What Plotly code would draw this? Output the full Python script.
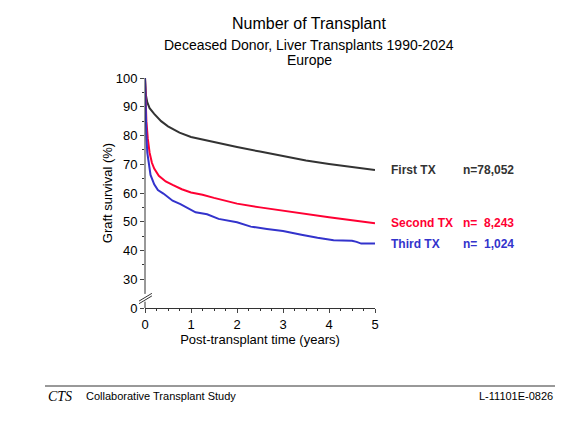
import plotly.graph_objects as go

# graft survival (%), time in years
t_first = [0, 0.02, 0.05, 0.1, 0.2, 0.35, 0.5, 0.75, 1, 1.5, 2, 2.5, 3, 3.5, 4, 4.5, 5]
first_tx = [100, 94, 91.5, 89.5, 87.5, 85, 83.2, 81, 79.5, 77.7, 76, 74.4, 72.8, 71.3, 70.1, 69, 68]

t_second = [0, 0.01, 0.03, 0.06, 0.1, 0.15, 0.2, 0.3, 0.45, 0.6, 0.8, 1, 1.25, 1.5, 2, 2.5, 3, 3.5, 4, 4.5, 5]
second_tx = [100, 92, 85, 79, 74, 70.5, 68.5, 66, 64, 62.8, 61.3, 60.2, 59.4, 58.3, 56.3, 55, 53.8, 52.8, 51.6, 50.5, 49.5]

t_third = [0, 0.01, 0.03, 0.05, 0.08, 0.12, 0.2, 0.28, 0.4, 0.5, 0.6, 0.77, 1, 1.1, 1.35, 1.6, 2,
           2.3, 2.65, 3, 3.4, 3.75, 4.1, 4.5, 4.6, 4.7, 5]
third_tx = [100, 90, 80, 74, 70, 66.3, 63, 61, 59.8, 58.5, 57.3, 56.1, 54.2, 53.3, 52.6, 51, 49.8,
            48.3, 47.5, 46.8, 45.5, 44.4, 43.6, 43.4, 43, 42.4, 42.4]

labels = ["First TX", "Second TX", "Third TX"]
counts = ["n=78,052", "n=\u00a0 8,243", "n=\u00a0 1,024"]
colors = ["#333333", "#ff0033", "#3333cc"]

# y axis is broken: "0" is drawn where 20 would be
y_tickvals = [20, 30, 40, 50, 60, 70, 80, 90, 100]
y_ticktext = ["0", "30", "40", "50", "60", "70", "80", "90", "100"]
Y0, Y1 = 20, 100


def py(v):
    return (v - Y0) / (Y1 - Y0)


# page positions (pixels of the screenshot) -> paper coords
def ax(px):
    return (px - 145) / 230


def ay(pyx):
    return (308 - pyx) / 230


fig = go.Figure()
for t, s, c in zip([t_first, t_second, t_third], [first_tx, second_tx, third_tx], colors):
    fig.add_trace(go.Scatter(x=t, y=s, mode='lines', line=dict(color=c, width=2), showlegend=False))

font = "Liberation Sans, Arial, sans-serif"
# the page body has an 8px margin, so the figure is 8px smaller each way
fig.update_layout(
    width=556, height=428, plot_bgcolor='white', paper_bgcolor='white',
    margin=dict(l=137, r=189, t=70, b=128),
    font=dict(family=font, color='black', size=13),
    xaxis=dict(range=[0, 5], tickvals=[0, 1, 2, 3, 4, 5], ticks='outside', ticklen=4,
               showline=True, linecolor='#333333', linewidth=1, showgrid=False, zeroline=False,
               minor=dict(dtick=0.25, ticks='outside', ticklen=2, tickcolor='#333333'),
               title=dict(text='Post-transplant time (years)', standoff=1, font=dict(size=13))),
    yaxis=dict(range=[Y0, Y1], tickvals=y_tickvals, ticktext=y_ticktext, ticks='outside', ticklen=4,
               showline=False, showgrid=False, zeroline=False,
               minor=dict(tickvals=[35, 45, 55, 65, 75, 85, 95], ticks='outside', ticklen=2,
                          tickcolor='#333333'),
               title=dict(text='Graft survival (%)', standoff=0, font=dict(size=13))),
)

# y axis line with break marks
line = dict(color='#333333', width=1)
fig.add_shape(type='line', xref='paper', yref='paper', x0=0, x1=0, y0=py(24.9), y1=1, line=line)
fig.add_shape(type='line', xref='paper', yref='paper', x0=0, x1=0, y0=0, y1=py(22.2), line=line)
fig.add_shape(type='line', xref='paper', yref='paper', x0=-0.026, x1=0.03, y0=py(21.5), y1=py(24.2), line=line)
fig.add_shape(type='line', xref='paper', yref='paper', x0=-0.026, x1=0.03, y0=py(22.4), y1=py(25.1), line=line)

# curve labels
for lab, n, c, v in zip(labels, counts, colors, [first_tx[-1], second_tx[-1], third_tx[-1]]):
    fig.add_annotation(text=f"<b>{lab}</b>", x=ax(389), y=v, xref='paper', yref='y',
                       xanchor='left', yanchor='middle', showarrow=False, font=dict(color=c, size=12))
    fig.add_annotation(text=f"<b>{n}</b>", x=ax(461), y=v, xref='paper', yref='y',
                       xanchor='left', yanchor='middle', showarrow=False, font=dict(color=c, size=12))

# titles
fig.add_annotation(text="Number of Transplant", x=ax(309), y=ay(23), xref='paper', yref='paper',
                   xanchor='center', yanchor='middle', showarrow=False, font=dict(size=16))
fig.add_annotation(text="Deceased Donor, Liver Transplants 1990-2024", x=ax(309), y=ay(45),
                   xref='paper', yref='paper', xanchor='center', yanchor='middle',
                   showarrow=False, font=dict(size=14))
fig.add_annotation(text="Europe", x=ax(309), y=ay(60), xref='paper', yref='paper',
                   xanchor='center', yanchor='middle', showarrow=False, font=dict(size=14))

# footer
fig.add_shape(type='line', xref='paper', yref='paper', x0=ax(45), x1=ax(555), y0=ay(386), y1=ay(386),
              line=dict(color='#333333', width=1))
fig.add_annotation(text="<i>CTS</i>", x=ax(46), y=ay(396), xref='paper', yref='paper',
                   xanchor='left', yanchor='middle', showarrow=False,
                   font=dict(family="Liberation Serif, Times New Roman, serif", size=14))
fig.add_annotation(text="Collaborative Transplant Study", x=ax(84), y=ay(396), xref='paper', yref='paper',
                   xanchor='left', yanchor='middle', showarrow=False, font=dict(size=11))
fig.add_annotation(text="L-11101E-0826", x=ax(555), y=ay(396), xref='paper', yref='paper',
                   xanchor='right', yanchor='middle', showarrow=False, font=dict(size=11))

fig.write_html("out.html")
